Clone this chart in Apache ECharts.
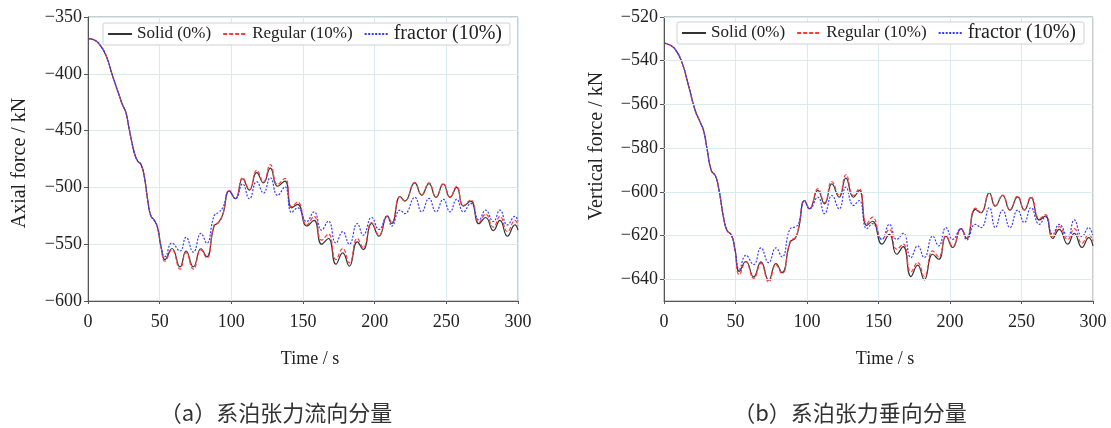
<!DOCTYPE html>
<html>
<head>
<meta charset="utf-8">
<script src="https://cdn.jsdelivr.net/npm/echarts@6/dist/echarts.min.js"></script>
<style>
  html, body { margin: 0; padding: 0; background: #fff; }
  #chart { width: 1111px; height: 428px; }
</style>
</head>
<body>
<div id="chart"></div>
<script>
// Mooring tension time histories: (a) streamwise component, (b) vertical component.
const seriesNames = ['Solid (0%)', 'Regular (10%)', 'fractor (10%)'];
const xTicks = [0, 50, 100, 150, 200, 250, 300];
const yTicksA = [-600, -550, -500, -450, -400, -350];
const yTicksB = [-640, -620, -600, -580, -560, -540, -520];

// (a) axial force, kN — shared initial drop, then per-series oscillation
const rampTimeA = [0, 4, 8, 12.6, 17.2, 21.9, 24.2, 26.5, 28.8, 32.3, 34.6, 36.9, 39.2, 41.6, 43.9, 46.2, 48.6, 50.9];
const rampA = [-369, -370, -374, -384, -402, -419.5, -427.7, -434.2, -449, -469.5, -476.8, -479.7, -490, -510.6, -525.3, -528.8, -535.6, -551.8];
const timeA = [53.7, 58.6, 64.2, 68.4, 73.5, 78.8, 82.8, 88, 91, 94, 98.6, 102.8, 107.9, 112.6, 117.7, 122.4, 127.2, 132.3, 137.4, 142.1, 146.3, 152.6, 157.7, 163, 167.7, 173, 177.7, 182.3, 187.9, 192, 197.9, 203, 208.8, 211.9, 217.7, 221, 228, 232.8, 237.9, 242.8, 247.9, 252.6, 257.2, 261.9, 267, 272.8, 277.4, 282.8, 287.4, 292.6, 297.9, 300];
const solidA = [-563.5, -553.8, -570, -556, -570, -554, -561, -534, -531, -524, -503, -510, -492.4, -502.4, -487, -496, -483, -499, -494.5, -518, -515, -534, -529, -550, -545, -567.6, -557.6, -569.4, -548, -554.7, -531.8, -543, -525.3, -531.8, -508, -512, -496, -506.8, -496.6, -508.8, -497, -508.8, -500, -516.5, -512, -532, -526.5, -538, -529, -543, -533, -537.6];
const regularA = [-565, -555, -572, -557.5, -572, -555, -562, -533, -531, -524, -503, -510, -491.5, -502, -485, -495, -480, -497.5, -492, -517, -513, -533, -525.5, -546.5, -541, -563.5, -553.8, -566.5, -545, -553, -531, -542, -525, -531, -508, -512, -495.5, -506.5, -496, -508.5, -496.5, -508.5, -499, -516, -511, -531, -523.5, -535, -525.5, -539, -529, -533.6];
const fractorA = [-561, -549, -556, -544, -557, -540.5, -549, -525, -522, -518, -503, -510, -497, -510, -495, -505, -491.5, -507, -499.5, -522, -518, -530, -521.5, -537.6, -529.7, -549, -539, -550, -531.8, -542, -526.5, -537, -525.3, -534, -520, -523, -508.8, -521.5, -509.7, -521.5, -510.5, -521.5, -510.5, -521.5, -514, -528.6, -520, -530, -520, -533, -525.5, -530];

// (b) vertical force, kN
const rampTimeB = [0, 4, 7.9, 12.6, 17.2, 21.9, 25.4, 27.7, 30.1, 33.1, 35.9, 38.3, 41.8, 44.1, 47.2, 49.5];
const rampB = [-532, -532.8, -534.8, -540.9, -551.5, -562.9, -568.3, -572, -580.4, -590.3, -592.6, -598.6, -612.3, -617.7, -619.9, -626];
const timeB = [52.7, 57.3, 62.7, 67.8, 73.2, 78.3, 82.5, 88.3, 91.8, 94.1, 98.3, 101.8, 107.6, 112.3, 117.4, 122.5, 127.2, 132.5, 136.5, 141.8, 145.8, 152.4, 157.6, 162.7, 167.3, 172.7, 177.4, 182, 187.9, 192.1, 197.2, 201.9, 207.7, 211.7, 217.7, 221.7, 227.5, 231.7, 236.8, 241.9, 247.3, 252, 256.6, 262.5, 266.7, 271.8, 276.4, 282.3, 286.9, 292.3, 297, 300];
const solidB = [-636.4, -631.8, -639, -632.1, -640.5, -632.9, -637, -623, -621.2, -616.9, -604, -607.8, -599.4, -605.5, -596.4, -602.5, -593.8, -602.5, -599.4, -615.4, -613.5, -624, -619.5, -628.6, -625.1, -638.8, -633.6, -640.3, -628.6, -630.9, -620.3, -625.5, -616.9, -621.4, -608.1, -609.6, -600.5, -606.6, -601.7, -608.4, -602.3, -608.4, -602.7, -612.9, -611.1, -621.4, -617.2, -624, -619, -625.5, -621, -624.8];
const regularB = [-637.9, -632.1, -639.7, -632.8, -641.3, -633.5, -637.5, -622.5, -621, -616.5, -604, -607.8, -598.6, -605, -595.3, -601.7, -592.2, -601.7, -598.6, -614.6, -611.6, -621.8, -617.2, -626.3, -624, -636.7, -632.4, -638.8, -627.1, -629.8, -620, -625, -616.9, -621, -607.5, -609.5, -600.3, -606.4, -601.5, -608.2, -602, -608.2, -602.3, -612.3, -610.5, -620.5, -616, -621.8, -616.9, -623.6, -619.5, -622.5];
const fractorB = [-635.4, -629.1, -633.3, -625.7, -632.4, -625.7, -629.8, -616.9, -616.1, -614.6, -604, -607.8, -602.5, -610, -601.7, -607.8, -597.9, -606.2, -604, -616.9, -614.6, -621.8, -614.9, -621.8, -619, -630.1, -624.8, -630.1, -620.3, -624.8, -616.4, -621.8, -616.9, -622, -614.9, -616.4, -607.3, -616.4, -608.4, -616.4, -608.4, -614.1, -607.3, -614.9, -611.4, -619.5, -614.9, -620.5, -612.9, -620.5, -616.4, -621];

const serifFont = '"Liberation Serif", "DejaVu Serif", serif';
const cjkFont = '"Noto Sans CJK SC", sans-serif';
const minus = v => String(v).replace('-', '\u2212');

function pairs(rampT, rampV, t, v) {
  const xs = rampT.concat(t), ys = rampV.concat(v);
  return xs.map((x, i) => [x, ys[i]]);
}

const lineStyles = [
  { color: '#333333', width: 1.2, type: 'solid' },
  { color: '#ff3b3b', width: 1.2, type: [4, 2] },
  { color: '#3a3aff', width: 1.2, type: [2, 1.5] }
];

function makeSeries(idx, datasets) {
  return datasets.map((d, k) => ({
    name: seriesNames[k],
    type: 'line',
    xAxisIndex: idx,
    yAxisIndex: idx,
    data: d,
    smooth: 0.5,
    showSymbol: false,
    symbol: 'none',
    lineStyle: lineStyles[k],
    itemStyle: { color: lineStyles[k].color },
    z: 2 + k,
    animation: false
  }));
}

function xAxisCfg(grid) {
  return {
    type: 'value', gridIndex: grid, min: 0, max: 300, interval: 50,
    axisLine: { lineStyle: { color: '#555', width: 1 } },
    axisTick: { show: true, length: 3, lineStyle: { color: '#555' } },
    axisLabel: { color: '#222', fontFamily: serifFont, fontSize: 18, margin: 12 },
    splitLine: { show: true, lineStyle: { color: '#d8ebf1', width: 1 } }
  };
}

function legendCfg(left, top) {
  return {
    left: left, top: top,
    orient: 'horizontal',
    backgroundColor: '#fff',
    borderColor: '#d0d0d0', borderWidth: 1, borderRadius: 2,
    padding: [1, 8, 1, 4],
    itemWidth: 24, itemHeight: 14, itemGap: 11,
    itemStyle: { opacity: 0 },
    textStyle: { color: '#222', fontFamily: serifFont, fontSize: 17 },
    data: [
      { name: seriesNames[0] },
      { name: seriesNames[1] },
      { name: seriesNames[2], textStyle: { fontSize: 20 } }
    ]
  };
}

const chart = echarts.init(document.getElementById('chart'), null, { renderer: 'canvas' });

chart.setOption({
  backgroundColor: '#fff',
  animation: false,
  grid: [
    { left: 88, top: 17, right: 593, bottom: 127, show: true, borderColor: '#9a9a9a', borderWidth: 1, containLabel: false },
    { left: 664, top: 17, right: 18, bottom: 127, show: true, borderColor: '#9a9a9a', borderWidth: 1, containLabel: false }
  ],
  legend: [legendCfg(103, 23), legendCfg(677, 22)],
  xAxis: [xAxisCfg(0), xAxisCfg(1)],
  yAxis: [
    {
      type: 'value', gridIndex: 0, min: -600, max: -350, interval: 50,
      axisLine: { show: true, lineStyle: { color: '#555' } },
      axisTick: { show: true, length: 4, lineStyle: { color: '#555' } },
      axisLabel: { color: '#222', fontFamily: serifFont, fontSize: 18, margin: 6, formatter: minus },
      splitLine: { show: true, lineStyle: { color: '#d8ebf1' } }
    },
    {
      type: 'value', gridIndex: 1, min: -650, max: -520,
      axisLine: { show: true, lineStyle: { color: '#555' } },
      axisTick: { show: true, length: 4, customValues: yTicksB, lineStyle: { color: '#555' } },
      axisLabel: { color: '#222', fontFamily: serifFont, fontSize: 18, margin: 6, customValues: yTicksB, formatter: minus },
      splitLine: { show: false }
    }
  ],
  graphic: [
    { type: 'text', x: 310, y: 359, style: { text: 'Time / s', font: '18px ' + serifFont, fill: '#222', textAlign: 'center', textVerticalAlign: 'middle' } },
    { type: 'text', x: 885, y: 359, style: { text: 'Time / s', font: '18px ' + serifFont, fill: '#222', textAlign: 'center', textVerticalAlign: 'middle' } },
    { type: 'text', x: 20, y: 163, rotation: Math.PI / 2, style: { text: 'Axial force / kN', font: '20px ' + serifFont, fill: '#222', textAlign: 'center', textVerticalAlign: 'middle' } },
    { type: 'text', x: 597, y: 146, rotation: Math.PI / 2, style: { text: 'Vertical force / kN', font: '20px ' + serifFont, fill: '#222', textAlign: 'center', textVerticalAlign: 'middle' } },
    { type: 'text', x: 276, y: 413, style: { text: '（a）系泊张力流向分量', font: '22px ' + cjkFont, fill: '#333', textAlign: 'center', textVerticalAlign: 'middle' } },
    { type: 'text', x: 850, y: 413, style: { text: '（b）系泊张力垂向分量', font: '22px ' + cjkFont, fill: '#333', textAlign: 'center', textVerticalAlign: 'middle' } }
  ],
  series: makeSeries(0, [
    pairs(rampTimeA, rampA, timeA, solidA),
    pairs(rampTimeA, rampA, timeA, regularA),
    pairs(rampTimeA, rampA, timeA, fractorA)
  ]).concat(makeSeries(1, [
    pairs(rampTimeB, rampB, timeB, solidB),
    pairs(rampTimeB, rampB, timeB, regularB),
    pairs(rampTimeB, rampB, timeB, fractorB)
  ])).concat([{
    // horizontal grid lines for panel (b) at the labelled ticks
    type: 'line', xAxisIndex: 1, yAxisIndex: 1, data: [], silent: true,
    markLine: {
      silent: true, symbol: 'none', label: { show: false },
      lineStyle: { color: '#d8ebf1', type: 'solid', width: 1 },
      data: yTicksB.map(v => ({ yAxis: v }))
    },
    z: 1
  }])
});
</script>
</body>
</html>
